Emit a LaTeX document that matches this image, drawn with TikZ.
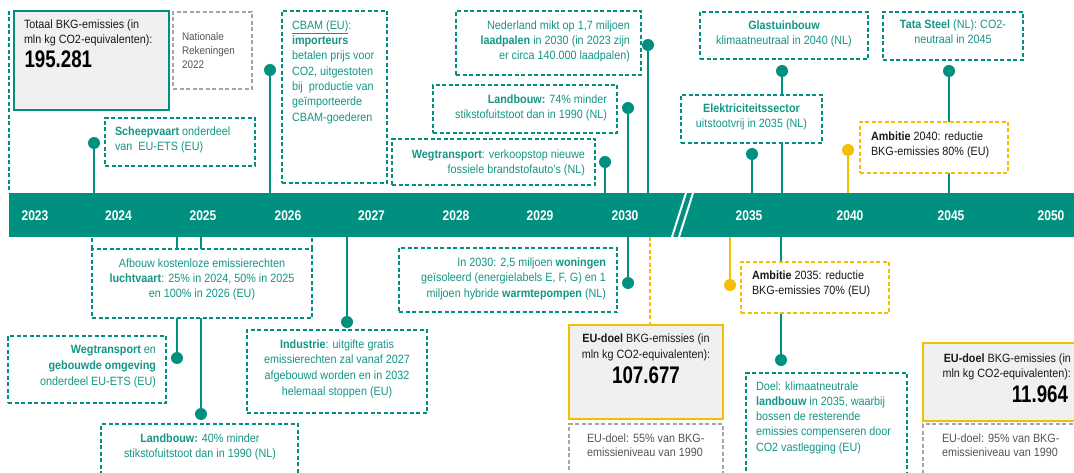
\documentclass[tikz,border=0pt]{standalone}
\usepackage{fontspec}
\setmainfont{Liberation Sans}[FakeStretch=0.9]
\newfontfamily\numfont{Liberation Sans}[FakeStretch=0.78]
\newfontfamily\yearfont{Liberation Sans}[FakeStretch=0.86]
\usetikzlibrary{backgrounds}
\pgfdeclarelayer{paper}
\pgfsetlayers{paper,background,main}

\definecolor{tealbar}{RGB}{0,144,128}
\definecolor{tealtxt}{RGB}{20,150,134}
\definecolor{ambergold}{RGB}{242,192,0}
\definecolor{boxgray}{RGB}{240,240,240}
\definecolor{dashgray}{RGB}{165,165,165}
\definecolor{notegray}{RGB}{85,85,85}
\definecolor{inkblack}{RGB}{25,25,25}

\tikzset{
  frame/.style={inner sep=0, outer sep=0, line width=1.2pt, fill=white},
  tealbox/.style={frame, draw=tealbar, dash pattern=on 4pt off 2.5pt},
  ambbox/.style={frame, draw=ambergold, dash pattern=on 4pt off 2.5pt},
  notebox/.style={frame, draw=dashgray, dash pattern=on 4pt off 2.5pt},
  totalbox/.style={frame, fill=boxgray, draw=tealbar},
  goalbox/.style={frame, fill=boxgray, draw=ambergold},
  tealdash/.style={draw=tealbar, line width=1.3pt, dash pattern=on 4pt off 2.5pt},
  ambdash/.style={draw=ambergold, line width=1.3pt, dash pattern=on 4pt off 2.5pt},
  stem/.style={draw=tealbar, line width=2.2pt},
  ystem/.style={draw=ambergold, line width=2.2pt},
  dot/.style={circle, fill=tealbar, minimum size=12pt, inner sep=0, outer sep=0},
  ydot/.style={dot, fill=ambergold},
  txt/.style={inner sep=0, outer sep=0, font=\fontsize{12}{15}\selectfont, text=tealtxt},
  tl/.style={txt, anchor=north west, align=left},
  tr/.style={txt, anchor=north east, align=right},
  tc/.style={txt, anchor=north, align=center},
  bignum/.style={inner sep=0, outer sep=0, text=black, font=\numfont\bfseries\fontsize{24}{26}\selectfont},
  year/.style={inner sep=0, text=white, font=\yearfont\bfseries\fontsize{14}{16}\selectfont},
}

\begin{document}
\begin{tikzpicture}[x=1pt, y=-1pt]
\useasboundingbox (0,0) rectangle (1074,473);
\begin{pgfonlayer}{paper}
  \fill[white] (0,0) rectangle (1074,473);
\end{pgfonlayer}
\clip (0,0) rectangle (1074,473);

% timeline bar with break marks
\node[fill=tealbar, inner sep=0, outer sep=0, minimum width=1071pt, minimum height=44pt] (bar) at (544.5,215) {};
\draw[white, line width=2pt] (672,237) -- (686,193);
\draw[white, line width=2pt] (679,237) -- (693,193);

\foreach \yr/\xx in {2023/35, 2024/118.5, 2025/203, 2026/288, 2027/371.5, 2028/456,
                     2029/540, 2030/625, 2035/749, 2040/850, 2045/951, 2050/1051}
  \node[year] (y\yr) at (\xx,216) {\yr};

% ---------- above the bar ----------
\node[totalbox, minimum width=155pt, minimum height=99pt] (total) at (91.5,60.5) {};
\node[tl, text=inkblack] (totaltxt) at (24,20) {Totaal BKG-emissies (in\\mln kg CO2-equivalenten):};
\node[bignum, anchor=west] (totalnum) at (24.5,59.5) {195.281};
\coordinate (edge) at (9,11);

\node[notebox, minimum width=79pt, minimum height=77pt] (nat) at (212.5,50.5) {};
\node[tl, text=notegray, font=\fontsize{11}{14.2}\selectfont] (nattxt) at (182,32.6) {Nationale\\Rekeningen\\2022};

\node[tealbox, minimum width=150pt, minimum height=48pt] (ship) at (180,142) {};
\node[tl] (shiptxt) at (115,127.3) {\textbf{Scheepvaart} onderdeel\\van\ \ EU-ETS (EU)};
\node[dot] (d24) at (94,143) {};

\node[tealbox, minimum width=105pt, minimum height=172pt] (cbam) at (334.5,97) {};
\node[tl, font=\fontsize{12}{15.3}\selectfont] (cbamtxt) at (292,20.6) {\underline{CBAM (EU)}:\\\textbf{importeurs}\\betalen prijs voor\\CO2, uitgestoten\\bij\ \ productie van\\geïmporteerde\\CBAM-goederen};
\node[dot] (d26) at (270,70) {};

\node[tealbox, minimum width=185pt, minimum height=64pt] (charge) at (548.5,43) {};
\node[tr] (chargetxt) at (630,20.6) {Nederland mikt op 1,7 miljoen\\\textbf{laadpalen} in 2030 (in 2023 zijn\\er circa 140.000 laadpalen)};
\node[dot] (d30a) at (648,45) {};

\node[tealbox, minimum width=184pt, minimum height=48pt] (agri74) at (525,109) {};
\node[tr] (agri74txt) at (607,94.6) {\textbf{Landbouw:} 74\% minder\\stikstofuitstoot dan in 1990 (NL)};
\node[dot] (d30b) at (628,108) {};

\node[tealbox, minimum width=203pt, minimum height=46pt] (road) at (493.5,162) {};
\node[tr] (roadtxt) at (585,149.6) {\textbf{Wegtransport}: verkoopstop nieuwe\\fossiele brandstofauto's (NL)};
\node[dot] (d30c) at (605,162) {};

\node[tealbox, minimum width=168pt, minimum height=47pt] (glass) at (784,35.5) {};
\node[tc] (glasstxt) at (784,20.6) {\textbf{Glastuinbouw}\\klimaatneutraal in 2040 (NL)};
\node[dot] (d36a) at (782,71) {};

\node[tealbox, minimum width=141pt, minimum height=48pt] (power) at (751.5,119) {};
\node[tc] (powertxt) at (751.5,103.6) {\textbf{Elektriciteitssector}\\uitstootvrij in 2035 (NL)};
\node[dot] (d35) at (752,154) {};

\node[tealbox, minimum width=140pt, minimum height=48pt] (steel) at (953,36) {};
\node[tc] (steeltxt) at (953,19.6) {\textbf{Tata Steel} (NL): CO2-\\neutraal in 2045};
\node[dot] (d45) at (949,71) {};

\node[ambbox, minimum width=148pt, minimum height=51pt] (amb40) at (934,147.5) {};
\node[tl, text=inkblack] (amb40txt) at (871,131.6) {\textbf{Ambitie} 2040: reductie\\BKG-emissies 80\% (EU)};
\node[ydot] (d40) at (848,150) {};

% ---------- below the bar ----------
\node[tealbox, minimum width=220pt, minimum height=69pt] (avia) at (202,283.5) {};
\node[tc] (aviatxt) at (202,258.6) {Afbouw kostenloze emissierechten\\\textbf{luchtvaart}: 25\% in 2024, 50\% in 2025\\en 100\% in 2026 (EU)};

\node[tealbox, minimum width=158pt, minimum height=67pt] (ets) at (87,369.5) {};
\node[tr, font=\fontsize{12}{16.2}\selectfont] (etstxt) at (156,344.9) {\textbf{Wegtransport} en\\\textbf{gebouwde omgeving}\\onderdeel EU-ETS (EU)};
\node[dot] (d25a) at (177,358) {};

\node[tealbox, minimum width=197pt, minimum height=66pt] (agri40) at (199.5,457) {};
\node[tc] (agri40txt) at (200,433.6) {\textbf{Landbouw:} 40\% minder\\stikstofuitstoot dan in 1990 (NL)};
\node[dot] (d25b) at (201,414) {};

\node[tealbox, minimum width=180pt, minimum height=83pt] (ind) at (337,371.5) {};
\node[tc, font=\fontsize{12}{15.6}\selectfont] (indtxt) at (337,339.6) {\textbf{Industrie}: uitgifte gratis\\emissierechten zal vanaf 2027\\afgebouwd worden en in 2032\\helemaal stoppen (EU)};
\node[dot] (d27) at (347,322) {};

\node[tealbox, minimum width=218pt, minimum height=64pt] (homes) at (508,280) {};
\node[tr, font=\fontsize{12}{15.5}\selectfont] (homestxt) at (606,257.6) {In 2030: 2,5 miljoen \textbf{woningen}\\geïsoleerd (energielabels E, F, G) en 1\\miljoen hybride \textbf{warmtepompen} (NL)};
\node[dot] (d30d) at (628,283) {};

\node[goalbox, minimum width=154pt, minimum height=94pt] (eu30) at (646,372) {};
\node[tc, text=inkblack, font=\fontsize{12}{16}\selectfont] (eu30txt) at (646,333.6) {\textbf{EU-doel} BKG-emissies (in\\mln kg CO2-equivalenten):};
\node[bignum] (eu30num) at (646,375) {107.677};
\coordinate (k30) at (650,300);

\node[notebox, minimum width=154pt, minimum height=66pt] (eu30note) at (646,457) {};
\node[tl, text=notegray, font=\fontsize{12}{14.5}\selectfont] (eu30notetxt) at (587,433.6) {EU-doel: 55\% van BKG-\\emissieniveau van 1990};

\node[ambbox, minimum width=148pt, minimum height=51pt] (amb35) at (815,287.5) {};
\node[tl, text=inkblack, font=\fontsize{12}{15.5}\selectfont] (amb35txt) at (752,270.6) {\textbf{Ambitie} 2035: reductie\\BKG-emissies 70\% (EU)};
\node[ydot] (d35y) at (730,285) {};

\node[tealbox, minimum width=161pt, minimum height=117pt] (farm) at (826.5,431.5) {};
\node[tl, font=\fontsize{12}{15.2}\selectfont] (farmtxt) at (756,381.6) {Doel: klimaatneutrale\\\textbf{landbouw} in 2035, waarbij\\bossen de resterende\\emissies compenseren door\\CO2 vastlegging (EU)};
\node[dot] (d36b) at (781,360) {};

\node[goalbox, minimum width=162pt, minimum height=78pt] (eu50) at (1004,382) {};
\node[tr, text=inkblack, font=\fontsize{12}{15.5}\selectfont] (eu50txt) at (1071,353.6) {\textbf{EU-doel} BKG-emissies (in\\mln kg CO2-equivalenten):};
\node[bignum, anchor=east] (eu50num) at (1068,394) {11.964};

\node[notebox, minimum width=162pt, minimum height=66pt] (eu50note) at (1004,457) {};
\node[tl, text=notegray, font=\fontsize{12}{14.5}\selectfont] (eu50notetxt) at (942,433.6) {EU-doel: 95\% van BKG-\\emissieniveau van 1990};

% ---------- connectors, behind the boxes ----------
\begin{scope}[on background layer]
  \draw[tealdash] (edge) -- (edge |- bar.north);
  \foreach \d in {d24, d26, d30a, d30b, d30c, d36a, d35, d45}
    \draw[stem] (\d) -- (\d |- bar.north);
  \draw[ystem] (d40) -- (d40 |- bar.north);
  \foreach \d in {d25a, d25b, d27, d30d, d36b}
    \draw[stem] (\d) -- (\d |- bar.south);
  \draw[ystem] (d35y) -- (d35y |- bar.south);
  \draw[ambdash] (bar.south -| k30) -- (eu30.north -| k30);
  \draw[tealdash] (avia.north west) -- (avia.north west |- bar.south);
  \draw[tealdash] (avia.north east) -- (avia.north east |- bar.south);
\end{scope}
\end{tikzpicture}
\end{document}
